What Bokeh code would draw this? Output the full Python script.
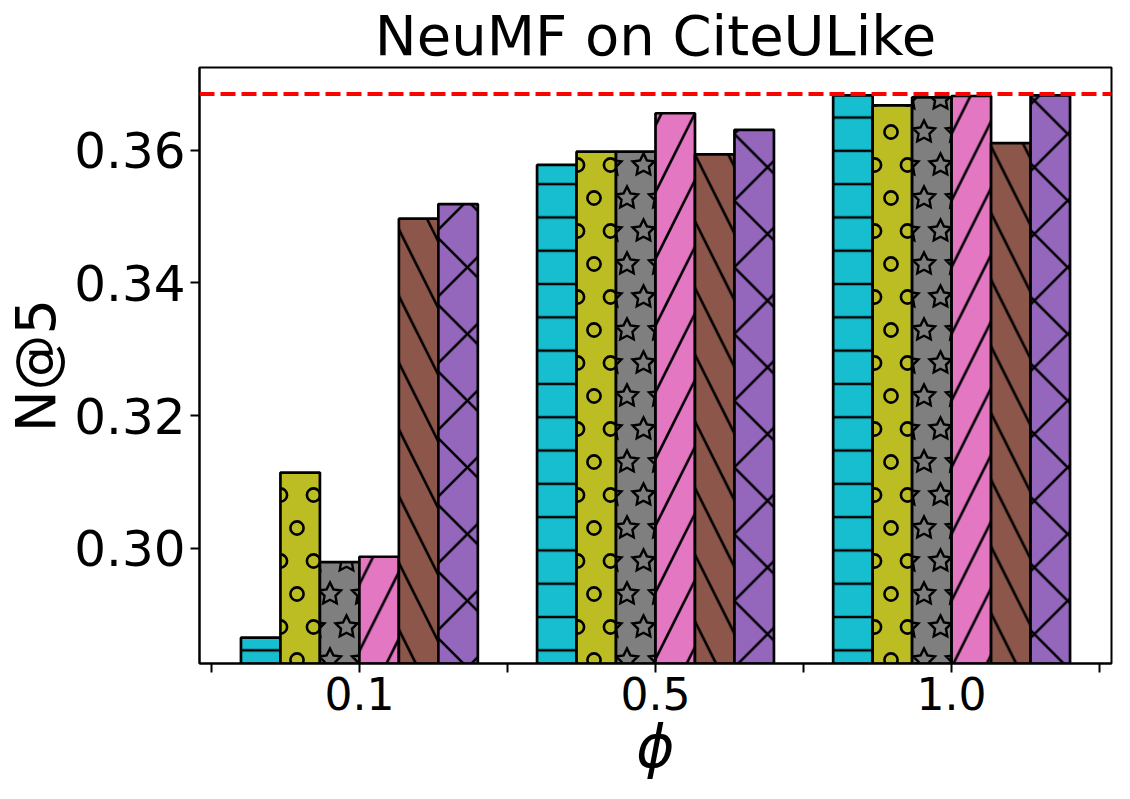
import base64
import math
from bokeh.plotting import figure
from bokeh.models import FixedTicker, Span, ImageURLTexture, Range1d, NumeralTickFormatter
from bokeh.embed import file_html
from bokeh.resources import INLINE

# ---------------- data ----------------
phi_labels = ["0.1", "0.5", "1.0"]
cyan_vals = [0.2865, 0.3578, 0.3683]
olive_vals = [0.3114, 0.3598, 0.3668]
gray_vals = [0.2979, 0.3598, 0.3680]
pink_vals = [0.2987, 0.3656, 0.3682]
brown_vals = [0.3497, 0.3594, 0.3611]
purple_vals = [0.3519, 0.3631, 0.3683]
reference_value = 0.3685
y_ticks = [0.30, 0.32, 0.34, 0.36]

# ---------------- hatch tiles (staggered lattice) ----------------
TW, TH = 33, 66
lattice = [(0, 0), (TW, 0), (0, TH), (TW, TH), (TW / 2, TH / 2)]


def tile_url(body):
    svg = (f'<svg xmlns="http://www.w3.org/2000/svg" width="{TW}" height="{TH}" '
           f'viewBox="0 0 {TW} {TH}">{body}</svg>')
    return "data:image/svg+xml;base64," + base64.b64encode(svg.encode()).decode()


circles = "".join(
    f'<circle cx="{cx}" cy="{cy}" r="6.6" fill="none" stroke="black" stroke-width="2.6"/>'
    for cx, cy in lattice)


def star_pts(cx, cy, R=11.5, ratio=0.5):
    pts = []
    for k in range(10):
        a = math.radians(90 + 36 * k)
        r = R if k % 2 == 0 else R * ratio
        pts.append(f"{cx + r * math.cos(a):.2f},{cy - r * math.sin(a):.2f}")
    return " ".join(pts)


stars = "".join(
    f'<polygon points="{star_pts(cx, cy)}" fill="none" stroke="black" stroke-width="2.4"/>'
    for cx, cy in lattice)

ring_tex = ImageURLTexture(url=tile_url(circles))
star_tex = ImageURLTexture(url=tile_url(stars))

# ---------------- figure ----------------
FONT = "DejaVu Sans"
p = figure(width=1114, height=783, output_backend="svg", toolbar_location=None,
           x_range=Range1d(-0.54, 2.54), y_range=Range1d(0.2826, 0.3725),
           min_border_left=187, min_border_right=3, min_border_top=54,
           min_border_bottom=120)

p.title.text = "NeuMF on CiteULike"
p.title.align = "center"
p.title.text_font = FONT
p.title.text_font_size = "56px"
p.title.text_font_style = "normal"
p.title.text_color = "black"
p.title.standoff = 0
p.title.offset = 0

n_series = 6
bar_w = 0.8 / n_series
group_x = list(range(len(phi_labels)))

series = [
    (cyan_vals, "#17becf", dict(hatch_pattern="horizontal_line", hatch_scale=33.3)),
    (olive_vals, "#bcbd22", dict(hatch_pattern="o", hatch_extra={"o": ring_tex})),
    (gray_vals, "#7f7f7f", dict(hatch_pattern="o", hatch_extra={"o": star_tex})),
    (pink_vals, "#e377c2", dict(hatch_pattern="right_diagonal_line", hatch_scale=66.7)),
    (brown_vals, "#8c564b", dict(hatch_pattern="left_diagonal_line", hatch_scale=66.7)),
    (purple_vals, "#9467bd", dict(hatch_pattern="diagonal_cross", hatch_scale=66.7)),
]

for i, (vals, color, hatch) in enumerate(series):
    xs = [g + (i - (n_series - 1) / 2) * bar_w for g in group_x]
    p.vbar(x=xs, top=vals, bottom=0, width=bar_w, fill_color=color,
           line_color="black", line_width=2.7, hatch_color="black",
           hatch_weight=2.6, **hatch)

p.add_layout(Span(location=reference_value, dimension="width", line_color="red",
                  line_width=4, line_dash="15 6"))

# ---------------- axes ----------------
p.xgrid.grid_line_color = None
p.ygrid.grid_line_color = None
p.outline_line_color = "black"
p.outline_line_width = 2
p.outline_line_alpha = 1

x_tick_pos = [-0.5, 0, 0.5, 1, 1.5, 2, 2.5]
p.xaxis.ticker = FixedTicker(ticks=x_tick_pos)
overrides = {t: "" for t in x_tick_pos}
for g, lab in zip(group_x, phi_labels):
    overrides[g] = lab
p.xaxis.major_label_overrides = overrides
p.yaxis.ticker = FixedTicker(ticks=y_ticks)
p.yaxis.formatter = NumeralTickFormatter(format="0.00")

for ax in (p.xaxis, p.yaxis):
    ax.axis_line_color = "black"
    ax.axis_line_width = 2
    ax.major_tick_line_color = "black"
    ax.major_tick_line_width = 2
    ax.major_tick_out = 9
    ax.major_tick_in = 0
    ax.minor_tick_line_color = None
    ax.major_label_text_font = FONT
    ax.major_label_text_color = "black"
    ax.axis_label_text_font = FONT
    ax.axis_label_text_color = "black"
    ax.axis_label_text_font_size = "56px"

p.xaxis.major_label_text_font_size = "44px"
p.yaxis.major_label_text_font_size = "50px"
p.xaxis.major_label_standoff = 4
p.yaxis.major_label_standoff = 5
p.xaxis.axis_label = "ϕ"
p.xaxis.axis_label_text_font_style = "italic"
p.xaxis.axis_label_text_font_size = "58px"
p.xaxis.axis_label_standoff = 0
p.yaxis.axis_label = "N@5"
p.yaxis.axis_label_text_font_style = "normal"
p.yaxis.axis_label_standoff = 3

open("out.html", "w").write(file_html(p, INLINE))
